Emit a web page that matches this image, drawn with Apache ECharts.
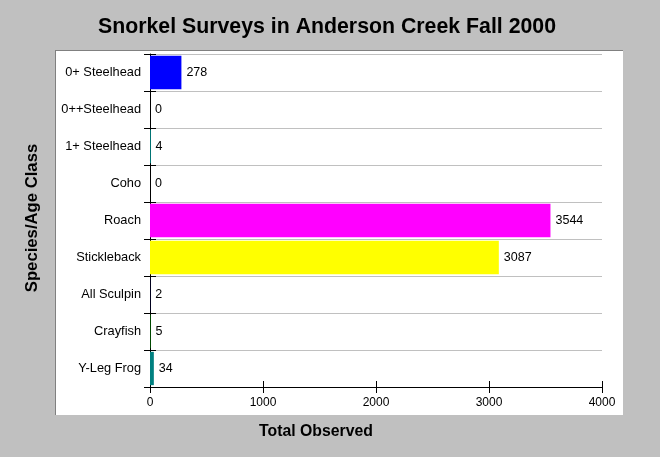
<!DOCTYPE html>
<html>
<head>
<meta charset="utf-8">
<script src="https://cdn.jsdelivr.net/npm/echarts@6/dist/echarts.min.js"></script>
<style>html,body{margin:0;padding:0;background:#c0c0c0;}#c{width:660px;height:457px;}</style>
</head>
<body>
<div id="c"></div>
<script>
const categories = ["0+ Steelhead","0++Steelhead","1+ Steelhead","Coho","Roach","Stickleback","All Sculpin","Crayfish","Y-Leg Frog"];
const values = [278, 0, 4, 0, 3544, 3087, 2, 5, 34];
const colors = ["#0000ff","#ff0000","#00ffff","#00ff00","#ff00ff","#ffff00","#000080","#008000","#008080"];
const xTicks = [0, 1000, 2000, 3000, 4000];

const font = '"Liberation Sans", Arial, sans-serif';
const chart = echarts.init(document.getElementById('c'), null, {renderer:'canvas'});
const grid = {left:150, top:54, right:58, bottom:70, containLabel:false};
chart.setOption({
  backgroundColor:'#c0c0c0',
  animation:false,
  graphic:[
    {type:'rect', z:-10, shape:{x:55,y:50,width:568,height:365}, style:{fill:'#ffffff'}},
    {type:'line', z:-9, shape:{x1:55,y1:50.5,x2:623,y2:50.5}, style:{stroke:'#808080', lineWidth:1}},
    {type:'line', z:-9, shape:{x1:55.5,y1:50,x2:55.5,y2:415}, style:{stroke:'#808080', lineWidth:1}},
    {type:'text', x:327, y:27, style:{text:'Snorkel Surveys in Anderson Creek Fall 2000', fill:'#000', font:'bold 21.3px ' + font, align:'center', verticalAlign:'middle'}},
    {type:'text', x:316, y:432, style:{text:'Total Observed', fill:'#000', font:'bold 15.8px ' + font, align:'center', verticalAlign:'middle'}},
    {type:'text', x:32, y:218, rotation:Math.PI/2, style:{text:'Species/Age Class', fill:'#000', font:'bold 16.7px ' + font, align:'center', verticalAlign:'middle'}}
  ],
  grid:[grid],
  xAxis:[
    {type:'value', min:xTicks[0], max:xTicks[xTicks.length-1], interval:1000,
     axisLine:{show:true, onZero:false, lineStyle:{color:'#000', width:1}},
     axisTick:{show:true, inside:false, length:6, lineStyle:{color:'#000'}},
     axisLabel:{fontFamily:font, fontSize:12, color:'#000', margin:10, formatter:v=>String(v)},
     splitLine:{show:false}},
    {type:'value', min:xTicks[0], max:xTicks[xTicks.length-1], interval:1000, position:'bottom',
     axisLine:{show:false}, axisTick:{show:true, inside:true, length:6, lineStyle:{color:'#000'}},
     axisLabel:{show:false}, splitLine:{show:false}}
  ],
  yAxis:[
    {type:'category', data:categories, inverse:true,
     axisLine:{show:true, lineStyle:{color:'#000', width:1}},
     axisTick:{show:true, inside:false, length:6, alignWithLabel:false, lineStyle:{color:'#000'}},
     axisLabel:{fontFamily:font, fontSize:12.8, color:'#000', margin:9},
     splitLine:{show:true, lineStyle:{color:'#c0c0c0', width:1}}},
    {type:'category', data:categories, inverse:true, position:'left',
     axisLine:{show:false}, axisTick:{show:true, inside:true, length:6, lineStyle:{color:'#000'}},
     axisLabel:{show:false}, splitLine:{show:false}}
  ],
  series:[{
    type:'bar', xAxisIndex:0, yAxisIndex:0,
    barCategoryGap:'10%',
    data: values.map((v,i)=>({value:v, itemStyle:{color:colors[i]}})),
    label:{show:true, position:'right', distance:5, fontFamily:font, fontSize:12.5, color:'#000'}
  }]
});
</script>
</body>
</html>
